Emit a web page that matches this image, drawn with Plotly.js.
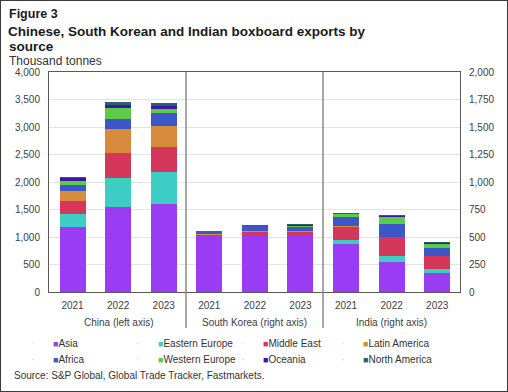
<!DOCTYPE html>
<html><head><meta charset="utf-8">
<script src="https://cdn.plot.ly/plotly-3.0.1.min.js"></script>
<style>
html,body{margin:0;padding:0;background:#fff}
#wrap{position:relative;width:508px;height:392px}
#chart{width:508px;height:392px}
#frame{position:absolute;left:0;top:0;width:508px;height:392px;box-sizing:border-box;border:1px solid #3a3a3a;pointer-events:none}
</style>
</head><body><div id="wrap"><div id="chart"></div><div id="frame"></div></div>
<script>
// ---- data (thousand tonnes) ----
var years = ['2021', '2022', '2023'];
var countries = ['China (left axis)', 'South Korea (right axis)', 'India (right axis)'];
var regions = ['Asia', 'Eastern Europe', 'Middle East', 'Latin America', 'Africa', 'Western Europe', 'Oceania', 'North America'];
var regionColors = ['#9b3cf5', '#3ccdc4', '#d5375a', '#d98b3d', '#3d57c9', '#5ccb4a', '#3a16a3', '#2c5f72'];
// each array: China 2021-2023, South Korea 2021-2023, India 2021-2023
var asia          = [1190, 1550, 1600, 510, 510, 510, 436, 270, 173];
var easternEurope = [230, 520, 575, 0, 3, 3, 36, 58, 34];
var middleEast    = [240, 460, 455, 8, 30, 30, 121, 168, 118];
var latinAmerica  = [175, 430, 395, 10, 8, 8, 5, 5, 5];
var africa        = [110, 190, 225, 25, 45, 40, 80, 115, 67];
var westernEurope = [80, 190, 80, 0, 0, 5, 30, 70, 42];
var oceania       = [55, 60, 60, 2, 5, 10, 5, 5, 5];
var northAmerica  = [20, 60, 40, 2, 5, 12, 5, 7, 8];
var series = [asia, easternEurope, middleEast, latinAmerica, africa, westernEurope, oceania, northAmerica];

// ---- categories: one per country/year ----
var cats = [], catYears = [];
countries.forEach(function (c) { years.forEach(function (y) { cats.push(c + ' ' + y); catYears.push(y); }); });

var FONT = 'Liberation Sans, Arial, sans-serif';
var traces = [];
series.forEach(function (vals, i) {
  traces.push({
    type: 'bar', name: regions[i], showlegend: false,
    x: cats.slice(0, 3), y: vals.slice(0, 3),
    marker: {color: regionColors[i], line: {width: 0}}, yaxis: 'y', hoverinfo: 'y+name'
  });
});
series.forEach(function (vals, i) {
  traces.push({
    type: 'bar', name: regions[i], showlegend: false,
    x: cats.slice(3), y: vals.slice(3),
    marker: {color: regionColors[i], line: {width: 0}}, yaxis: 'y2', hoverinfo: 'y+name'
  });
});
// legend entries (small square glyph in the series colour)
var legendOf = ['legend', 'legend', 'legend', 'legend2', 'legend3', 'legend3', 'legend3', 'legend4'];
regions.forEach(function (r, i) {
  traces.push({
    type: 'scatter', mode: 'markers', showlegend: true, legend: legendOf[i],
    name: '<span style="color:' + regionColors[i] + ';font-size:9px">\u25A0</span>' + r,
    x: [cats[0]], y: [null],
    marker: {size: 1, opacity: 0}, hoverinfo: 'skip'
  });
});

// ---- layout helpers ----
var W = 508, H = 392, L = 49, R = 48, T = 72, B = 100;
var pw = W - L - R, ph = H - T - B;
function px(x) { return (x - L) / pw; }
function py(y) { return (H - B - y) / ph; }

function legendAt(left, top, ew) {
  var lg = {
    orientation: 'h', xref: 'paper', yref: 'paper',
    x: px(left), y: py(top), xanchor: 'left', yanchor: 'top',
    itemwidth: 30, traceorder: 'normal',
    font: {size: 10, color: '#333'}, bgcolor: 'rgba(0,0,0,0)'
  };
  if (ew) lg.entrywidth = ew;
  return lg;
}

var groupAnn = countries.map(function (c) {
  return {
    text: c, xref: 'x', yref: 'paper', x: c + ' ' + years[1], y: py(322),
    xanchor: 'center', yanchor: 'middle', showarrow: false, font: {size: 10, color: '#404040'}
  };
});

var layout = {
  width: W, height: H,
  margin: {l: L, r: R, t: T, b: B, pad: 0},
  paper_bgcolor: '#fff', plot_bgcolor: '#fff',
  font: {family: FONT, size: 10, color: '#333'},
  barmode: 'stack', bargap: 0.43,
  title: {
    text: '<b>Chinese, South Korean and Indian boxboard exports by</b>',
    font: {family: FONT, size: 13.5, color: '#1a1a1a'},
    xref: 'container', yref: 'container', x: 8 / W, xanchor: 'left',
    y: 1 - 31 / H, yanchor: 'middle'
  },
  xaxis: {
    type: 'category', tickvals: cats, ticktext: catYears,
    showline: true, mirror: true, linecolor: '#595959', linewidth: 1,
    ticks: '', tickfont: {size: 10, color: '#404040'}, ticklabelstandoff: 4,
    showgrid: false
  },
  yaxis: {
    range: [0, 4000], dtick: 500, tickformat: ',', showline: true, linecolor: '#595959',
    gridcolor: '#e3e3e3', zeroline: false, ticks: '', ticklabelstandoff: 6,
    tickfont: {size: 10, color: '#404040'}
  },
  yaxis2: {
    overlaying: 'y', side: 'right', range: [0, 2000], dtick: 250, tickformat: ',',
    showline: true, linecolor: '#595959', showgrid: false, zeroline: false, ticks: '',
    ticklabelstandoff: 6, tickfont: {size: 10, color: '#404040'}
  },
  showlegend: true,
  legend: legendAt(13, 329, 60),
  legend2: legendAt(323, 329),
  legend3: legendAt(13, 345, 60),
  legend4: legendAt(323, 345),
  shapes: [
    {type: 'line', xref: 'paper', yref: 'paper', x0: 1 / 3, x1: 1 / 3, y0: py(328), y1: 1, line: {color: '#8a8a8a', width: 1.5}},
    {type: 'line', xref: 'paper', yref: 'paper', x0: 2 / 3, x1: 2 / 3, y0: py(328), y1: 1, line: {color: '#8a8a8a', width: 1.5}}
  ],
  annotations: [
    {text: '<b>Figure 3</b>', xref: 'paper', yref: 'paper', x: px(7), y: py(14), xanchor: 'left', yanchor: 'middle', showarrow: false, font: {size: 12.5, color: '#1a1a1a'}},
    {text: '<b>source</b>', xref: 'paper', yref: 'paper', x: px(7), y: py(46), xanchor: 'left', yanchor: 'middle', showarrow: false, font: {size: 13.5, color: '#1a1a1a'}},
    {text: 'Thousand tonnes', xref: 'paper', yref: 'paper', x: px(7), y: py(61), xanchor: 'left', yanchor: 'middle', showarrow: false, font: {size: 12, color: '#333'}},
    {text: 'Source: S&P Global, Global Trade Tracker, Fastmarkets.', xref: 'paper', yref: 'paper', x: px(12), y: py(375), xanchor: 'left', yanchor: 'middle', showarrow: false, font: {size: 10, color: '#333'}}
  ].concat(groupAnn)
};

Plotly.newPlot('chart', traces, layout, {displayModeBar: false, staticPlot: true});
</script></body></html>
